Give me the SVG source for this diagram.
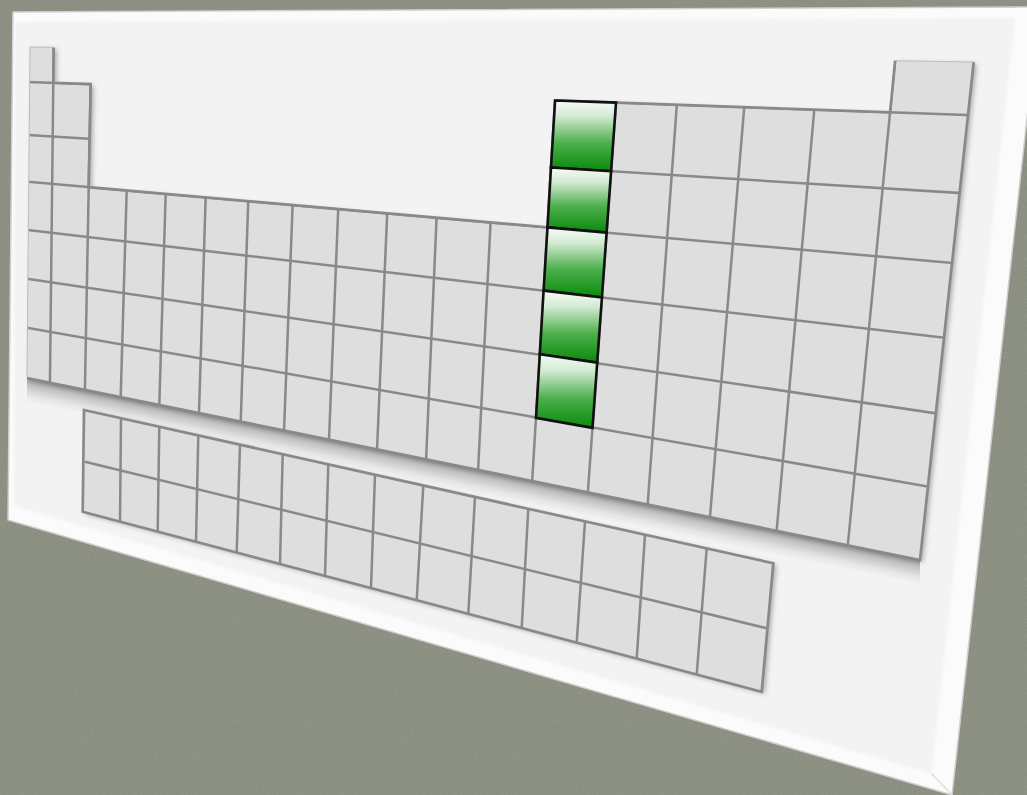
<svg xmlns="http://www.w3.org/2000/svg" width="1027" height="795" viewBox="0 0 1027 795">
<defs>
<style>
.cell{fill:#dedede}
.grid{stroke:#898989;stroke-width:2.5;fill:none}
.edge{stroke:#898989;stroke-width:2.7;fill:none;stroke-linejoin:miter}
.faint{stroke:#bdbdbd;stroke-width:1;fill:none}
.green{fill:url(#gg);stroke:#111;stroke-width:2.6;stroke-linejoin:miter}
</style>
<linearGradient id="gg" x1="0" y1="0" x2="0" y2="1">
<stop offset="0" stop-color="#f7fbf7"/>
<stop offset="0.22" stop-color="#d3ebd3"/>
<stop offset="0.6" stop-color="#4caf4c"/>
<stop offset="1" stop-color="#0a8a0c"/>
</linearGradient>
<linearGradient id="band" gradientUnits="userSpaceOnUse" x1="473.5" y1="469" x2="468.7" y2="492.5">
<stop offset="0" stop-color="#9e9e9e"/>
<stop offset="0.3" stop-color="#c3c3c3"/>
<stop offset="0.7" stop-color="#e5e5e5"/>
<stop offset="1" stop-color="#f3f3f3"/>
</linearGradient>
<filter id="ds" x="-5%" y="-5%" width="112%" height="115%">
<feDropShadow dx="3" dy="2" stdDeviation="2.5" flood-color="#000" flood-opacity="0.3"/>
</filter>
<filter id="soft" x="-2%" y="-2%" width="104%" height="104%">
<feGaussianBlur stdDeviation="1.5"/>
</filter>
<filter id="noise" x="0" y="0" width="100%" height="100%">
<feTurbulence type="fractalNoise" baseFrequency="0.8" numOctaves="3" seed="7" result="n"/>
<feColorMatrix in="n" type="matrix" values="0 0 0 0 0.33  0 0 0 0 0.35  0 0 0 0 0.3  0 0 0 1.6 -0.72"/>
</filter>
<clipPath id="mainClip">
<polygon points="30,47 53.7,47.4 53.3,82.8 90.7,84.1 88.7,187.2 547.5,227.4 555.1,100.5 890.1,112.3 895.1,60.7 973.7,62 920,560 27,378"/>
</clipPath>
</defs>

<g id="background">
<rect x="0" y="0" width="1027" height="795" fill="#8a8f80"/>
<rect x="0" y="0" width="1027" height="795" filter="url(#noise)" opacity="0.9"/>
</g>

<g id="board">
<polygon points="13,12 1039.3,7 952,795 8,520" fill="#fbfbfb" stroke="#cfcfcf" stroke-width="1.5"/>
<polygon points="15,22 1015,18 931.4,773.5 14,506" fill="#f3f3f3" filter="url(#soft)"/>
<line x1="952" y1="795" x2="931.4" y2="773.5" stroke="#dcdcdc" stroke-width="1.2"/>
<polygon points="27,378 920,560 920,584.5 27,402.5" fill="url(#band)"/>
</g>

<g id="main-table">
<polygon class="cell" filter="url(#ds)" points="30,47 53.7,47.4 53.3,82.8 90.7,84.1 88.7,187.2 547.5,227.4 555.1,100.5 890.1,112.3 895.1,60.7 973.7,62 920,560 27,378"/>
<g clip-path="url(#mainClip)" class="grid">
<line x1="20" y1="81.65" x2="980" y2="115.42"/>
<line x1="20" y1="134.38" x2="980" y2="194.25"/>
<line x1="20" y1="181.12" x2="980" y2="265.37"/>
<line x1="20" y1="229.06" x2="980" y2="341.88"/>
<line x1="20" y1="277.82" x2="980" y2="419.88"/>
<line x1="20" y1="326.58" x2="980" y2="495.78"/>
<line x1="53.77" y1="40" x2="47.84" y2="570"/>
<line x1="91.49" y1="40" x2="81.52" y2="570"/>
<line x1="131.05" y1="40" x2="115.68" y2="570"/>
<line x1="170.32" y1="40" x2="154.32" y2="570"/>
<line x1="210.52" y1="40" x2="194.15" y2="570"/>
<line x1="253.78" y1="40" x2="235.63" y2="570"/>
<line x1="298.92" y1="40" x2="278.70" y2="570"/>
<line x1="344.97" y1="40" x2="323.81" y2="570"/>
<line x1="394.67" y1="40" x2="371.83" y2="570"/>
<line x1="444.28" y1="40" x2="421.32" y2="570"/>
<line x1="499.77" y1="40" x2="473.06" y2="570"/>
<line x1="558.71" y1="40" x2="526.83" y2="570"/>
<line x1="620.58" y1="40" x2="582.21" y2="570"/>
<line x1="681.57" y1="40" x2="642.89" y2="570"/>
<line x1="749.85" y1="40" x2="705.54" y2="570"/>
<line x1="820.53" y1="40" x2="773.12" y2="570"/>
<line x1="897.13" y1="40" x2="845.37" y2="570"/>
</g>
<polyline class="edge" points="53.7,47.4 53.3,82.8 90.7,84.1 88.7,187.2 547.5,227.4 555.1,100.5 890.1,112.3 895.1,60.7"/>
<polyline class="edge" points="973.7,62 920,560 27,378"/>
<polyline class="faint" points="27,378 30,47 53.7,47.4"/>
<polyline class="faint" points="895.1,60.7 973.7,62"/>
</g>

<g id="group-13">
<polygon class="green" points="555.1,100.5 616,102.6 611.1,171.2 551,167.5"/>
<polygon class="green" points="551,167.5 611.1,171.2 606.6,232.6 547.5,227.4"/>
<polygon class="green" points="547.5,227.4 606.6,232.6 601.9,297.5 543.6,290.6"/>
<polygon class="green" points="543.6,290.6 601.9,297.5 597.2,362.6 539.8,354.2"/>
<polygon class="green" points="539.8,354.2 597.2,362.6 592.5,427.9 536,417.9"/>
</g>

<g id="f-block">
<polygon class="cell" filter="url(#ds)" points="84,410 773.3,563.3 761.7,691.7 82.7,511.7"/>
<g class="grid">
<line x1="85" y1="461.7" x2="766.7" y2="628.3"/>
<line x1="121" y1="418.2" x2="120" y2="521.6"/>
<line x1="159.3" y1="426.7" x2="157.7" y2="531.6"/>
<line x1="198.3" y1="435.4" x2="196" y2="541.7"/>
<line x1="240" y1="444.7" x2="236.7" y2="552.5"/>
<line x1="282.7" y1="454.2" x2="280" y2="564"/>
<line x1="328.3" y1="464.4" x2="325" y2="575.9"/>
<line x1="375" y1="474.8" x2="371" y2="588.1"/>
<line x1="423.3" y1="485.4" x2="416.7" y2="600.2"/>
<line x1="475" y1="497" x2="468.3" y2="613.9"/>
<line x1="528.3" y1="508.8" x2="521.7" y2="628.1"/>
<line x1="585" y1="521.4" x2="576.7" y2="642.7"/>
<line x1="645" y1="534.8" x2="636.7" y2="658.6"/>
<line x1="706.7" y1="548.5" x2="696.7" y2="674.5"/>
</g>
<polygon class="edge" points="84,410 773.3,563.3 761.7,691.7 82.7,511.7"/>
</g>
</svg>
